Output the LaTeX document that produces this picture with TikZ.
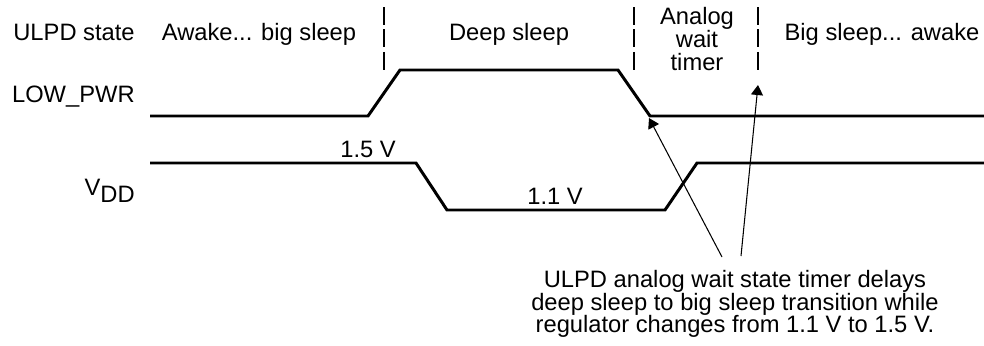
\documentclass[tikz,border=0pt]{standalone}
\usepackage{fontspec}
\setmainfont{Liberation Sans}
\usetikzlibrary{arrows.meta,positioning}
\tikzset{
    wave/.style    = {line width=1.7pt, line join=miter},
    divider/.style = {line width=0.6pt, dash pattern=on 10pt off 2.8pt},
    pointer/.style = {-{Triangle[length=5.7pt,width=6.8pt]}, line width=0.6pt},
    lbl/.style     = {inner sep=0pt, font=\fontsize{13.5}{13}\selectfont}
}

\begin{document}
\begin{tikzpicture}[x=0.02cm, y=-0.02cm]
    \useasboundingbox (0,0) rectangle (984,345);

    % Row labels
    \node[lbl, anchor=base east] (state)  at (135,40)  {ULPD state};
    \node[lbl, anchor=base east] (lowpwr) at (135,102) {LOW\_PWR};
    \node[lbl, anchor=base east] (vdd)    at (135,195) {V\raisebox{-4pt}{DD}};

    % State labels
    \node[lbl, anchor=base] (awake)  at (259,40) {Awake... big sleep};
    \node[lbl, anchor=base] (deep)   at (509,40) {Deep sleep};
    \node[lbl, align=center] (analog) at (697,39) {Analog\\wait\\timer};
    \node[lbl, anchor=base] (bigs)   at (882,40) {Big sleep... awake};

    % Dividers
    \foreach \x in {384,634,758}
        \draw[divider] (\x,7) -- (\x,71);

    % Waveforms
    \draw[wave] (150,116) -- (368,116) -- (400,70) -- (618,70) -- (650,116) -- (984,116);
    \draw[wave] (150,163) -- (416,163) -- (447,210) -- (665,210) -- (697,163) -- (984,163);

    % Levels
    \node[lbl, anchor=base] (hi) at (368,157) {1.5 V};
    \node[lbl, anchor=base] (lo) at (555,204) {1.1 V};

    % Note with pointers
    \node[lbl, align=center] (note) at (735,304)
        {ULPD analog wait state timer delays\\deep sleep to big sleep transition while\\regulator changes from 1.1 V to 1.5 V.};
    \coordinate (tipA)  at (649,118);
    \coordinate (tipB)  at (758,85);
    \coordinate (tailA) at (722,257);
    \coordinate (tailB) at (741,256);
    \draw[pointer] (tailA) -- (tipA);
    \draw[pointer] (tailB) -- (tipB);

\end{tikzpicture}
\end{document}
